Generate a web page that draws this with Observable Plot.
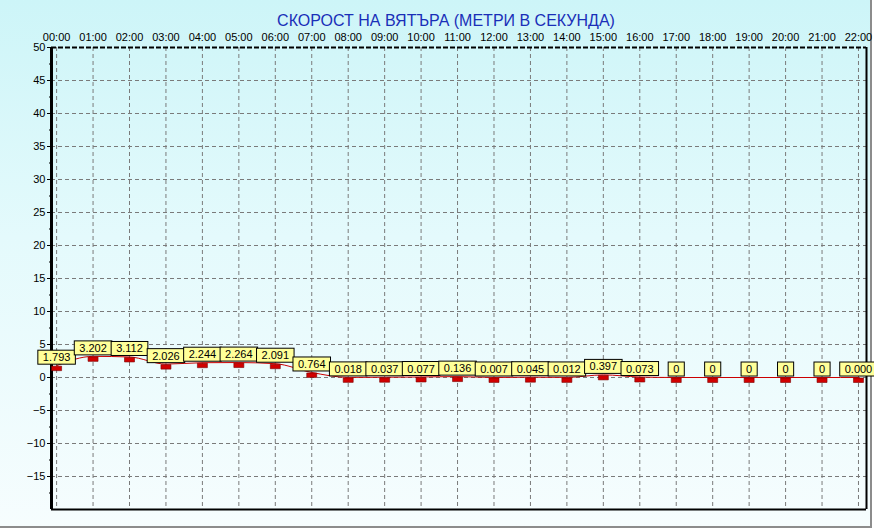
<!DOCTYPE html>
<html>
<head>
<meta charset="utf-8">
<script src="https://cdn.jsdelivr.net/npm/d3@7"></script>
<script src="https://cdn.jsdelivr.net/npm/@observablehq/plot@0.6"></script>
<style>
  body { margin: 0; background: #ffffff; }
  #wrap { position: relative; width: 874px; height: 529px; background: #ffffff; overflow: hidden; }
  #bg { position: absolute; left: 0; top: 0; width: 870px; height: 526px;
        background: linear-gradient(to bottom, #cdf5f8 0%, #e4fafc 45%, #f6fdfe 100%);
        border-right: 2px solid #8c8c8c; border-bottom: 2px solid #8c8c8c; }
  #chart { position: absolute; left: 0; top: 0; }
  svg { font-family: "Liberation Sans", Arial, sans-serif; }
</style>
</head>
<body>
<div id="wrap"><div id="bg"></div><div id="chart"></div></div>
<script>
const title = "СКОРОСТ НА ВЯТЪРА (МЕТРИ В СЕКУНДА)";
const hourLabels = ["00:00","01:00","02:00","03:00","04:00","05:00","06:00","07:00","08:00","09:00","10:00","11:00","12:00","13:00","14:00","15:00","16:00","17:00","18:00","19:00","20:00","21:00","22:00"];
const speeds = [1.793, 3.202, 3.112, 2.026, 2.244, 2.264, 2.091, 0.764, 0.018, 0.037, 0.077, 0.136, 0.007, 0.045, 0.012, 0.397, 0.073, 0, 0, 0, 0, 0, 0.000];
const valueLabels = ["1.793","3.202","3.112","2.026","2.244","2.264","2.091","0.764","0.018","0.037","0.077","0.136","0.007","0.045","0.012","0.397","0.073","0","0","0","0","0","0.000"];
const yTicks = [-15,-10,-5,0,5,10,15,20,25,30,35,40,45,50];
const yMinorTicks = [-17.5,-12.5,-7.5,-2.5,2.5,7.5,12.5,17.5,22.5,27.5,32.5,37.5,42.5,47.5];
const yGrid = [-15,-10,-5,0,5,10,15,20,25,30,35,40,45];
const xDomain = [-0.14, 22.22];
const yDomain = [-20, 50];

const data = speeds.map((v, i) => ({h: i, v, label: valueLabels[i], name: hourLabels[i]}));
const hours = data.map(d => d.h);

const markerSymbol = { draw(ctx) { ctx.rect(-5, 0.5, 10, 4.5); } };

const plot = Plot.plot({
  width: 874,
  height: 529,
  marginTop: 47,
  marginLeft: 51,
  marginRight: 8,
  marginBottom: 20,
  style: { background: "transparent", fontSize: "11px", fontFamily: "Liberation Sans, Arial, sans-serif", color: "#000" },
  x: { domain: xDomain, axis: null },
  y: { domain: yDomain, axis: null },
  marks: [
    // grid
    Plot.ruleX(hours, { stroke: "#7a7a7a", strokeDasharray: "4,3", strokeWidth: 1 }),
    Plot.ruleY(yGrid, { stroke: "#7a7a7a", strokeDasharray: "4,3", strokeWidth: 1 }),
    // frame
    Plot.ruleY([yDomain[1]], { stroke: "#000", strokeWidth: 2, strokeDasharray: "5,2" }),
    Plot.ruleY([yDomain[0]], { stroke: "#000", strokeWidth: 2 }),
    Plot.ruleX([xDomain[1]], { stroke: "#000", strokeWidth: 2 }),
    Plot.ruleX([xDomain[0]], { stroke: "#000", strokeWidth: 3 }),
    // axes
    Plot.axisX(hours, { anchor: "top", label: null, tickSize: 0, tickPadding: 7, tickFormat: i => hourLabels[i], fontSize: 11, fill: "#000" }),
    Plot.axisY(yTicks, { anchor: "left", label: null, tickSize: 4, tickPadding: 2, fontSize: 11, fill: "#000", stroke: "#000" }),
    Plot.axisY(yMinorTicks, { anchor: "left", label: null, tickSize: 2, tickFormat: () => "", stroke: "#000" }),
    // series
    Plot.line(data, { x: "h", y: "v", stroke: "#cc0000", strokeWidth: 1, curve: "monotone-x" }),
    Plot.dot(data, { x: "h", y: "v", symbol: markerSymbol, r: 4, fill: "#d10000", stroke: "#7a0000", strokeWidth: 0.6 }),
    Plot.text(data, { x: "h", y: "v", text: "label", dy: -8, fill: "#000", fontSize: 11, ariaDescription: "value-labels" }),
    // title
    Plot.text([title], { frameAnchor: "top", dy: -33, dx: -13, fill: "#1a2fb8", fontSize: 16, fontWeight: "normal" })
  ]
});

document.getElementById("chart").appendChild(plot);

// yellow boxes behind the value labels
const g = plot.querySelector('g[aria-description="value-labels"]');
if (g) {
  g.querySelectorAll("text").forEach(t => {
    const b = t.getBBox();
    const cy = b.y + b.height / 2;
    const r = document.createElementNS("http://www.w3.org/2000/svg", "rect");
    r.setAttribute("x", b.x - 5);
    r.setAttribute("y", cy - 7);
    r.setAttribute("width", b.width + 10);
    r.setAttribute("height", 14);
    r.setAttribute("fill", "#ffff99");
    r.setAttribute("stroke", "#000");
    r.setAttribute("stroke-width", "1");
    const tr = t.getAttribute("transform");
    if (tr) r.setAttribute("transform", tr);
    t.parentNode.insertBefore(r, t);
  });
}
</script>
</body>
</html>
